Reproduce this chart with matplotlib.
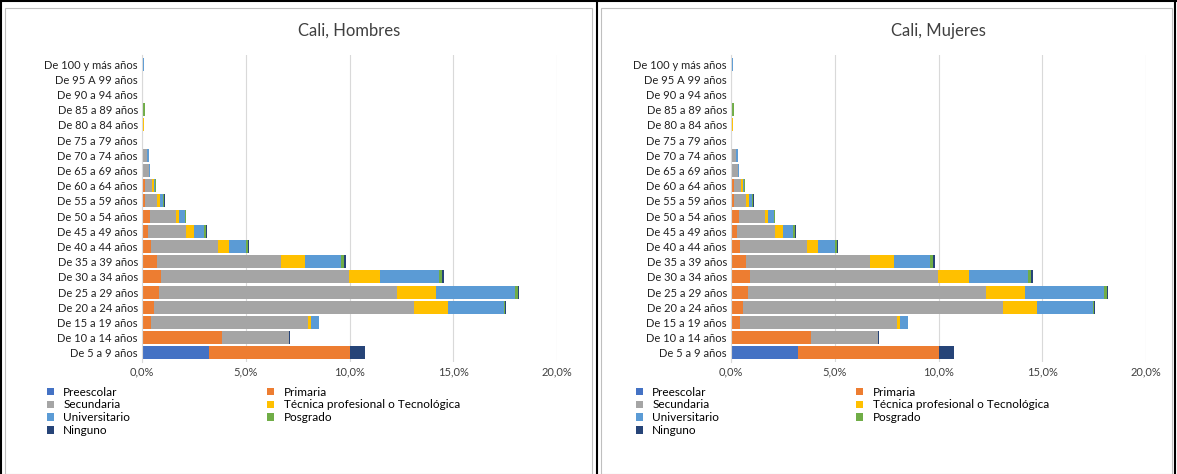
import numpy as np
import matplotlib
matplotlib.use("Agg")
import matplotlib.pyplot as plt
from matplotlib.patches import Rectangle

plt.rcParams['font.family'] = ['Lato', 'DejaVu Sans']

ages = ["De 5 a 9 años", "De 10 a 14 años", "De 15 a 19 años", "De 20 a 24 años",
        "De 25 a 29 años", "De 30 a 34 años", "De 35 a 39 años", "De 40 a 44 años",
        "De 45 a 49 años", "De 50 a 54 años", "De 55 a 59 años", "De 60 a 64 años",
        "De 65 a 69 años", "De 70 a 74 años", "De 75 a 79 años", "De 80 a 84 años",
        "De 85 a 89 años", "De 90 a 94 años", "De 95 A 99 años", "De 100 y más años"]
levels = ["Preescolar", "Primaria", "Secundaria", "Técnica profesional o Tecnológica",
          "Universitario", "Posgrado", "Ninguno"]
colors = ["#4472C4", "#ED7D31", "#A5A5A5", "#FFC000", "#5B9BD5", "#70AD47", "#264478"]

# percentages per age group (rows follow `ages`, columns follow `levels`)
hombres = [
    [3.24, 6.80, 0.00, 0.00, 0.00, 0.00, 0.70],
    [0.05, 3.80, 3.25, 0.00, 0.00, 0.00, 0.05],
    [0.00, 0.42, 7.60, 0.13, 0.36, 0.00, 0.00],
    [0.00, 0.60, 12.50, 1.64, 2.70, 0.07, 0.03],
    [0.00, 0.80, 11.50, 1.88, 3.80, 0.12, 0.07],
    [0.00, 0.90, 9.07, 1.50, 2.86, 0.13, 0.09],
    [0.00, 0.71, 6.00, 1.15, 1.75, 0.13, 0.09],
    [0.00, 0.42, 3.22, 0.55, 0.82, 0.10, 0.07],
    [0.00, 0.31, 1.82, 0.36, 0.51, 0.09, 0.03],
    [0.00, 0.38, 1.27, 0.13, 0.29, 0.03, 0.00],
    [0.00, 0.16, 0.58, 0.11, 0.16, 0.03, 0.06],
    [0.00, 0.13, 0.36, 0.09, 0.07, 0.02, 0.00],
    [0.00, 0.07, 0.25, 0.00, 0.05, 0.00, 0.02],
    [0.00, 0.00, 0.25, 0.00, 0.07, 0.03, 0.00],
    [0.00, 0.00, 0.00, 0.00, 0.03, 0.00, 0.00],
    [0.00, 0.03, 0.00, 0.06, 0.00, 0.00, 0.00],
    [0.00, 0.00, 0.06, 0.00, 0.00, 0.07, 0.00],
    [0.00, 0.00, 0.03, 0.00, 0.00, 0.04, 0.00],
    [0.00, 0.00, 0.00, 0.00, 0.03, 0.00, 0.00],
    [0.00, 0.00, 0.07, 0.00, 0.04, 0.00, 0.00],
]
mujeres = [row[:] for row in hombres]

W, H = 1177, 474
fig = plt.figure(figsize=(W / 100, H / 100), dpi=100)

# outer black frame lines and grey chart boxes
for x in (1, 597, 1175):
    fig.add_artist(plt.Line2D([x / W, x / W], [0, 1], color="black", lw=1.5))
fig.add_artist(plt.Line2D([0, 1], [1 - 1 / H, 1 - 1 / H], color="black", lw=1.5))
for x0, x1 in ((5, 592), (601, 1172)):
    fig.add_artist(Rectangle((x0 / W, 0), (x1 - x0) / W, (H - 8) / H,
                             transform=fig.transFigure, fill=False, ec="#BFBFBF", lw=0.8))


def draw(left_px, title, data):
    ax = fig.add_axes([left_px / W, 1 - 362 / H, 415 / W, (362 - 55) / H])
    vals = np.array(data)
    y = np.arange(len(ages))
    left = np.zeros(len(ages))
    handles = []
    for j, lev in enumerate(levels):
        h = ax.barh(y, vals[:, j], left=left, height=0.85, color=colors[j], label=lev)
        handles.append(h)
        left += vals[:, j]
    ax.set_xlim(0, 20)
    ax.set_ylim(-0.6, len(ages) - 0.4)
    ax.set_xticks([0, 5, 10, 15, 20])
    ax.set_xticklabels(["0,0%", "5,0%", "10,0%", "15,0%", "20,0%"], fontsize=8, color="#404040")
    ax.set_yticks(y)
    ax.set_yticklabels(ages, fontsize=8, color="#222222")
    ax.tick_params(length=0, pad=3)
    ax.grid(axis="x", color="#D9D9D9", lw=0.8)
    ax.set_axisbelow(True)
    for s in ("top", "right", "bottom"):
        ax.spines[s].set_visible(False)
    ax.spines["left"].set_color("#D9D9D9")
    ax.set_title(title, fontsize=12, color="#404040", pad=14)
    # matplotlib fills legend columns first; reorder so it reads row by row
    order = [0, 2, 4, 6, 1, 3, 5]
    fig.legend(handles=[handles[i] for i in order], loc="upper left", ncol=2, frameon=False,
               bbox_to_anchor=((left_px - 100) / W, 1 - 382 / H), fontsize=8.5,
               handlelength=0.6, handleheight=0.6, labelspacing=0.15,
               columnspacing=11.6, borderaxespad=0)
    return ax


draw(142, "Cali, Hombres", hombres)
draw(731, "Cali, Mujeres", mujeres)

fig.savefig("out.png", dpi=100)
